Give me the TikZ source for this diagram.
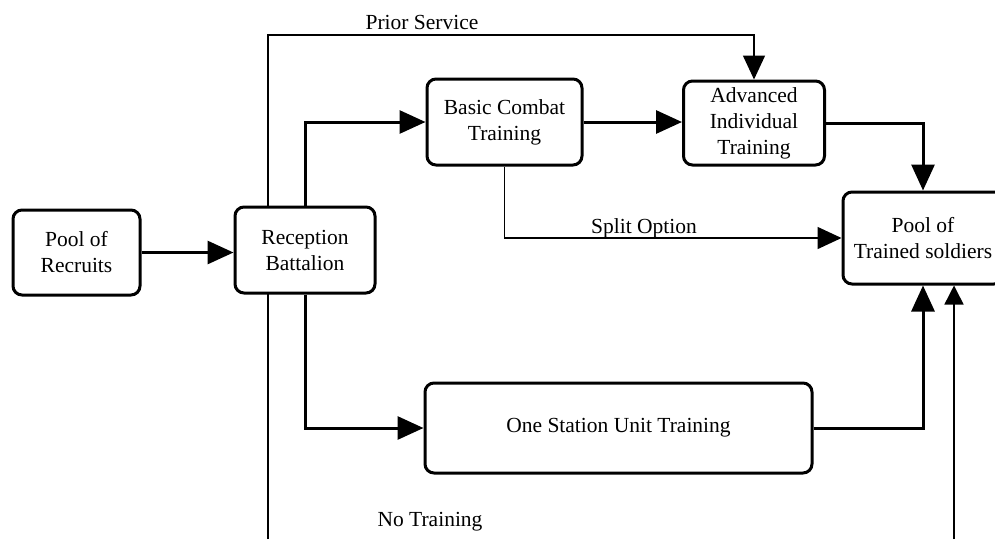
\documentclass[tikz,border=0pt]{standalone}
\usepackage{fontspec}
\setmainfont{Liberation Serif}
\usetikzlibrary{arrows.meta,backgrounds}
\begin{document}
\begin{tikzpicture}[x=1pt,y=-1pt,
  box/.style={draw=black,line width=3pt,rounded corners=9pt,fill=white,align=center,
    inner sep=0pt,font=\fontsize{21.5}{26}\selectfont},
  thickline/.style={line width=3pt,-{Triangle[length=26pt,width=23pt]}},
  thinline/.style={line width=1.5pt},
  thinarrow/.style={line width=1.5pt,-{Triangle[length=19pt,width=19pt]}},
  lbl/.style={font=\fontsize{21.5}{26}\selectfont,inner sep=0pt}]
\useasboundingbox (0,0) rectangle (995,539);
% boxes
\node[box,minimum width=127pt,minimum height=85pt] (recruits) at (76.5,252.5) {Pool of\\Recruits};
\node[box,minimum width=140pt,minimum height=86pt] (reception) at (305,250) {Reception\\Battalion};
\node[box,minimum width=155pt,minimum height=86pt] (bct) at (504.5,122) {Basic Combat\\Training};
\node[box,minimum width=141pt,minimum height=84pt] (ait) at (754,123) {Advanced\\Individual\\Training};
\node[box,minimum width=160pt,minimum height=92pt] (pool) at (923,238) {Pool of\\Trained soldiers};
\node[box,minimum width=387pt,minimum height=90pt] (osut) at (618.5,428) {One Station Unit Training};
% free ends
\coordinate (nb) at (268,539);
\coordinate (tl) at (268,35);
\coordinate (nr) at (954,539);
% thin long line behind the boxes
\begin{scope}[on background layer]
\fill[white] (0,0) rectangle (995,539);
\draw[thinline,-{Triangle[length=24pt,width=22pt]}] (nb) -- (tl) -| (ait.north);
\end{scope}
\draw[thinarrow] (nr) -- (nr |- pool.south);
% connectors
\draw[thickline] (recruits.east) -- (recruits.east -| reception.west);
\draw[thickline] (reception.north) |- (bct.west);
\draw[thickline] (reception.south) |- (osut.west);
\draw[thickline] (bct.east) -- (bct.east -| ait.west);
\draw[thickline] (ait.east) -| (pool.north);
\draw[thickline] (osut.east) -| (pool.south);
\draw[thinline,-{Triangle[length=24pt,width=22pt]}] (bct.south) |- (pool.west);
% labels
\node[lbl] (lps) at (422,22) {Prior Service};
\node[lbl] (lso) at (644,228) {Split Option};
\node[lbl] (lnt) at (430,522) {No Training};
\end{tikzpicture}
\end{document}
